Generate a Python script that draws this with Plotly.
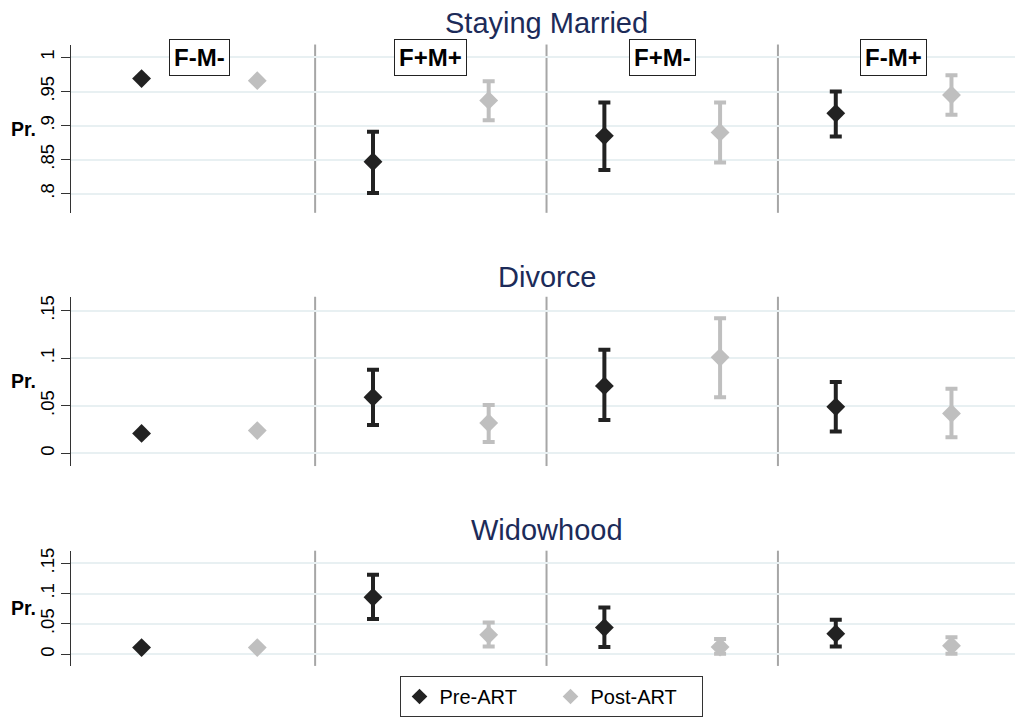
import plotly.graph_objects as go
from plotly.subplots import make_subplots

# ---------------- data ----------------
groups = ["F-M-", "F+M+", "F+M-", "F-M+"]
x_pre = [1, 3, 5, 7]
x_post = [2, 4, 6, 8]
group_centers = [1.5, 3.5, 5.5, 7.5]
separators = [2.5, 4.5, 6.5]

panel_titles = ["Staying Married", "Divorce", "Widowhood"]

married_pre = [0.969, 0.847, 0.885, 0.918]
married_pre_lo = [0.969, 0.801, 0.835, 0.884]
married_pre_hi = [0.969, 0.891, 0.934, 0.950]
married_post = [0.966, 0.937, 0.890, 0.945]
married_post_lo = [0.966, 0.908, 0.846, 0.916]
married_post_hi = [0.966, 0.965, 0.934, 0.974]

divorce_pre = [0.021, 0.059, 0.071, 0.049]
divorce_pre_lo = [0.021, 0.030, 0.035, 0.023]
divorce_pre_hi = [0.021, 0.088, 0.109, 0.075]
divorce_post = [0.024, 0.032, 0.101, 0.042]
divorce_post_lo = [0.024, 0.012, 0.059, 0.017]
divorce_post_hi = [0.024, 0.051, 0.142, 0.068]

widow_pre = [0.011, 0.094, 0.044, 0.034]
widow_pre_lo = [0.011, 0.058, 0.012, 0.013]
widow_pre_hi = [0.011, 0.131, 0.077, 0.057]
widow_post = [0.011, 0.032, 0.012, 0.014]
widow_post_lo = [0.011, 0.013, 0.001, 0.001]
widow_post_hi = [0.011, 0.0525, 0.025, 0.028]

married_ticks = [0.8, 0.85, 0.9, 0.95, 1.0]
married_ticktext = [".8", ".85", ".9", ".95", "1"]
small_ticks = [0, 0.05, 0.1, 0.15]
small_ticktext = ["0", ".05", ".1", ".15"]

# ---------------- styling ----------------
W, H = 1015, 717
L = 71
PRE_COLOR = "#222222"
POST_COLOR = "#bfbfbf"
GRID = "#e8f0f2"
SEP = "#a6a6a6"
TITLE_COLOR = "#1c2b59"
FONT = "Liberation Sans, Arial, Helvetica, sans-serif"

panels = [
    dict(pre=(married_pre, married_pre_lo, married_pre_hi),
         post=(married_post, married_post_lo, married_post_hi),
         rng=[0.772, 1.019], tv=married_ticks, tt=married_ticktext,
         top=41.7, bot=210.7, title_y=20.3),
    dict(pre=(divorce_pre, divorce_pre_lo, divorce_pre_hi),
         post=(divorce_post, divorce_post_lo, divorce_post_hi),
         rng=[-0.0133, 0.1647], tv=small_ticks, tt=small_ticktext,
         top=295, bot=465, title_y=275),
    dict(pre=(widow_pre, widow_pre_lo, widow_pre_hi),
         post=(widow_post, widow_post_lo, widow_post_hi),
         rng=[-0.0192, 0.1708], tv=small_ticks, tt=small_ticktext,
         top=550, bot=665.7, title_y=529.7),
]

fig = make_subplots(rows=3, cols=1)

for i, p in enumerate(panels):
    row = i + 1
    for (vals, lo, hi), xs, color, name in [
        (p["pre"], x_pre, PRE_COLOR, "Pre-ART"),
        (p["post"], x_post, POST_COLOR, "Post-ART"),
    ]:
        fig.add_trace(go.Scatter(
            x=xs, y=vals, mode="markers", name=name,
            legendgroup=name, showlegend=(i == 0),
            marker=dict(symbol="diamond", size=14.5, color=color, line=dict(width=0)),
            error_y=dict(type="data", symmetric=False,
                         array=[h - v for h, v in zip(hi, vals)],
                         arrayminus=[v - l for v, l in zip(vals, lo)],
                         color=color, thickness=4, width=6),
        ), row=row, col=1)

    xname = "xaxis" if i == 0 else f"xaxis{row}"
    yname = "yaxis" if i == 0 else f"yaxis{row}"
    dom = [1 - p["bot"] / H, 1 - p["top"] / H]
    fig.layout[xname].update(
        range=[0.39, 0.39 + (W - L) / 115.7], showgrid=False, zeroline=False,
        showticklabels=False, showline=False, ticks="", fixedrange=True)
    fig.layout[yname].update(
        domain=dom, range=p["rng"], tickvals=p["tv"], ticktext=p["tt"],
        tickangle=-90, ticks="outside", ticklen=9, tickwidth=1.2,
        tickcolor="#333333", showline=True, linecolor="#333333", linewidth=1.2,
        showgrid=True, gridcolor=GRID, gridwidth=1.5, zeroline=False,
        tickfont=dict(size=18.5, color="black", family=FONT))

    xref = "x" if i == 0 else f"x{row}"
    yref = "y" if i == 0 else f"y{row}"
    for s in separators:
        fig.add_shape(type="line", xref=xref, yref=f"{yref} domain",
                      x0=s, x1=s, y0=0, y1=1,
                      line=dict(color=SEP, width=2), layer="below")
    fig.add_annotation(text=panel_titles[i], xref=xref, x=4.5,
                       yref="paper", y=1 - p["title_y"] / H,
                       xanchor="center", yanchor="middle", showarrow=False,
                       font=dict(size=29, color=TITLE_COLOR, family=FONT))
    fig.add_annotation(text="<b>Pr.</b>", xref="paper", x=(9 - L) / (W - L),
                       yref=f"{yref} domain", y=0.5, xanchor="left",
                       yanchor="middle", showarrow=False,
                       font=dict(size=19.5, color="black", family=FONT))

for g, xc in zip(groups, group_centers):
    fig.add_annotation(text=f"<b>{g}</b>", xref="x", x=xc, yref="y", y=1.0,
                       xanchor="center", yanchor="middle", showarrow=False,
                       bgcolor="white", bordercolor="#222222", borderwidth=1,
                       borderpad=4,
                       font=dict(size=24, color="black", family=FONT))

fig.update_layout(
    width=W, height=H,
    margin=dict(l=L, r=0, t=0, b=0, pad=0),
    paper_bgcolor="white", plot_bgcolor="white",
    font=dict(family=FONT, color="black"),
    showlegend=True,
    legend=dict(orientation="h", xref="paper", x=(551 - L) / (W - L),
                xanchor="center", yref="paper", y=0, yanchor="bottom",
                bordercolor="#333333", borderwidth=1, bgcolor="white",
                font=dict(size=20, color="black", family=FONT),
                itemsizing="constant", entrywidth=106, entrywidthmode="pixels"),
)

fig.write_html(
    "out.html",
    config={"displayModeBar": False},
    post_script="document.body.style.margin='0';document.body.style.overflow='hidden';",
)
